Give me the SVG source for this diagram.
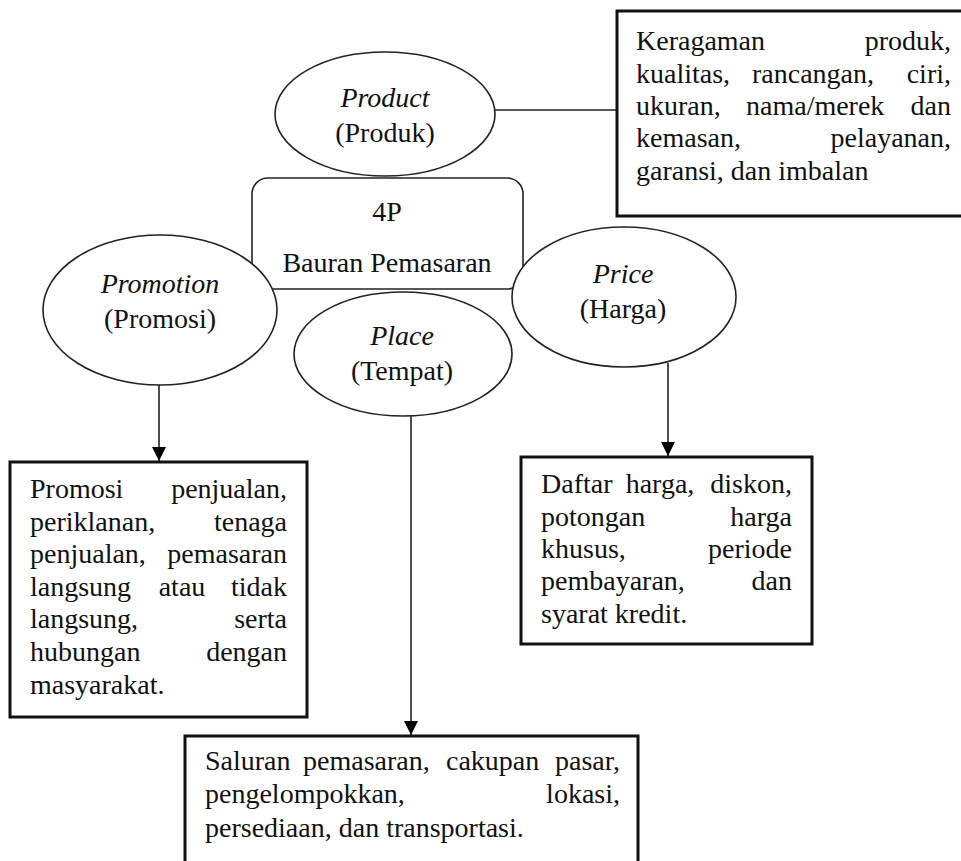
<svg xmlns="http://www.w3.org/2000/svg" width="961" height="861" viewBox="0 0 961 861">
<defs>
<marker id="arr" viewBox="0 0 14 14" refX="14" refY="7" markerWidth="14" markerHeight="14" markerUnits="userSpaceOnUse" orient="auto">
<path d="M0,0 L14,7 L0,14 Z" fill="#000"/>
</marker>
<style>
text{font-family:"Liberation Serif","Times New Roman",serif;font-size:28px;fill:#111;}
.it{font-style:italic;}
.m{text-anchor:middle;}
.e{text-anchor:end;}
.ell{fill:#fff;stroke:#222;stroke-width:1.6;}
.box{fill:#fff;stroke:#111;stroke-width:3;}
.con{stroke:#222;stroke-width:1.6;fill:none;}
</style>
</defs>
<rect width="961" height="861" fill="#fff"/>

<g id="connectors">
<line class="con" x1="495" y1="110" x2="617" y2="110"/>
<line class="con" x1="159" y1="385" x2="159" y2="461" marker-end="url(#arr)"/>
<line class="con" x1="668" y1="363" x2="668" y2="456" marker-end="url(#arr)"/>
<line class="con" x1="411" y1="416" x2="411" y2="735" marker-end="url(#arr)"/>
</g>

<g id="bauran">
<rect x="252" y="178" width="271" height="111" rx="16" ry="16" fill="#fff" stroke="#222" stroke-width="1.6"/>
<text class="m" x="387" y="221">4P</text>
<text class="m" x="387" y="272">Bauran Pemasaran</text>
</g>

<g id="product">
<ellipse class="ell" cx="385" cy="114" rx="110" ry="62"/>
<text class="m it" x="385" y="107">Product</text>
<text class="m" x="385" y="142">(Produk)</text>
</g>

<g id="promotion">
<ellipse class="ell" cx="160" cy="310" rx="117" ry="75"/>
<text class="m it" x="160" y="293">Promotion</text>
<text class="m" x="160" y="328">(Promosi)</text>
</g>

<g id="place">
<ellipse class="ell" cx="403" cy="354" rx="109" ry="62"/>
<text class="m it" x="402" y="345">Place</text>
<text class="m" x="402" y="380">(Tempat)</text>
</g>

<g id="price">
<ellipse class="ell" cx="624" cy="297" rx="112" ry="70"/>
<text class="m it" x="623" y="283">Price</text>
<text class="m" x="623" y="318">(Harga)</text>
</g>

<g id="product-desc">
<rect class="box" x="617" y="11" width="360" height="205"/>
<text x="636" y="50">Keragaman</text><text class="e" x="951" y="50">produk,</text>
<text x="636" y="83">kualitas,</text><text x="752" y="83">rancangan,</text><text class="e" x="951" y="83">ciri,</text>
<text x="636" y="115">ukuran,</text><text x="746" y="115">nama/merek</text><text class="e" x="951" y="115">dan</text>
<text x="636" y="147">kemasan,</text><text class="e" x="951" y="147">pelayanan,</text>
<text x="636" y="180">garansi, dan imbalan</text>
</g>

<g id="promotion-desc">
<rect class="box" x="10" y="462" width="297" height="255"/>
<text x="30" y="498">Promosi</text><text class="e" x="287" y="498">penjualan,</text>
<text x="30" y="531">periklanan,</text><text class="e" x="287" y="531">tenaga</text>
<text x="30" y="563">penjualan,</text><text class="e" x="287" y="563">pemasaran</text>
<text x="30" y="596">langsung</text><text class="m" x="182" y="596">atau</text><text class="e" x="287" y="596">tidak</text>
<text x="30" y="628">langsung,</text><text class="e" x="287" y="628">serta</text>
<text x="30" y="661">hubungan</text><text class="e" x="287" y="661">dengan</text>
<text x="30" y="694">masyarakat.</text>
</g>

<g id="price-desc">
<rect class="box" x="521" y="457" width="291" height="187"/>
<text x="541" y="493">Daftar</text><text class="m" x="660" y="493">harga,</text><text class="e" x="792" y="493">diskon,</text>
<text x="541" y="526">potongan</text><text class="e" x="792" y="526">harga</text>
<text x="541" y="558">khusus,</text><text class="e" x="792" y="558">periode</text>
<text x="541" y="590">pembayaran,</text><text class="e" x="792" y="590">dan</text>
<text x="541" y="623">syarat kredit.</text>
</g>

<g id="place-desc">
<rect class="box" x="185" y="736" width="453" height="140"/>
<text x="205" y="770">Saluran</text><text x="303" y="770">pemasaran,</text><text x="446" y="770">cakupan</text><text class="e" x="620" y="770">pasar,</text>
<text x="205" y="803">pengelompokkan,</text><text class="e" x="620" y="803">lokasi,</text>
<text x="205" y="837">persediaan, dan transportasi.</text>
</g>
</svg>
